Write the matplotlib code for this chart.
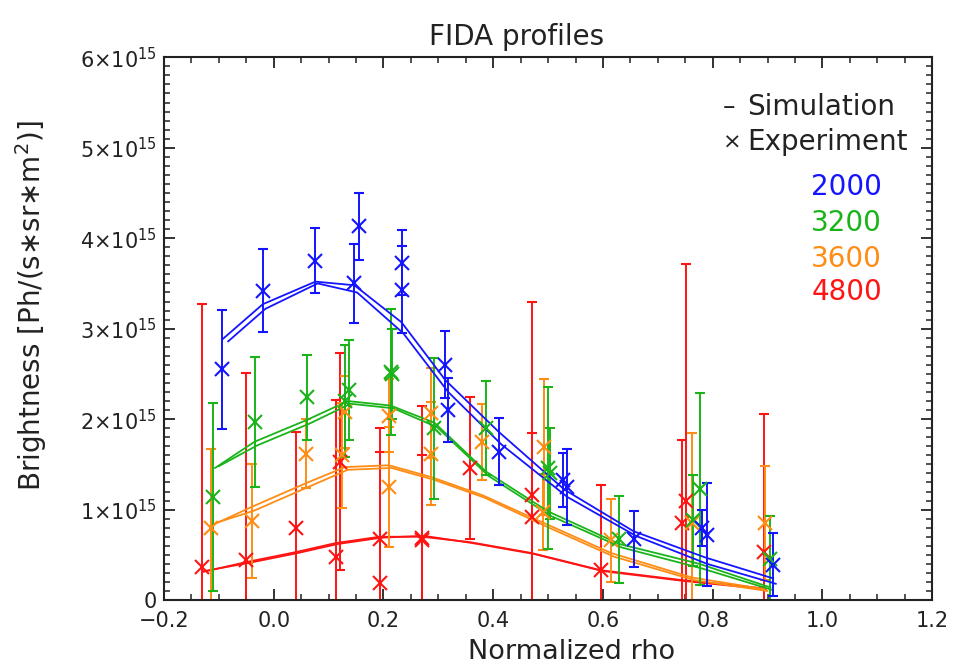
import numpy as np
import matplotlib
matplotlib.use('Agg')
import matplotlib.pyplot as plt
from matplotlib.ticker import MultipleLocator, FuncFormatter

plt.rcParams['font.family'] = ['DejaVu Sans']
plt.rcParams['mathtext.default'] = 'regular'

# values in units of 1e15 Ph/(s*sr*m^2)
energies = ['2000', '3200', '3600', '4800']
colors = ['#1414ff', '#1ab41a', '#ff8c14', '#ff1414']

# simulation, two lines per energy
blue_sim_xa = [-0.094, -0.02, 0.076, 0.147, 0.233, 0.313, 0.41, 0.53, 0.656, 0.787, 0.91]
blue_sim_ya = [2.88, 3.27, 3.52, 3.48, 3.07, 2.43, 1.86, 1.22, 0.76, 0.47, 0.24]
blue_sim_xb = [-0.083, -0.015, 0.08, 0.152, 0.236, 0.318, 0.415, 0.535, 0.66, 0.79, 0.915]
blue_sim_yb = [2.86, 3.22, 3.50, 3.40, 2.95, 2.30, 1.72, 1.14, 0.71, 0.40, 0.18]

green_sim_xa = [-0.107, -0.035, 0.06, 0.135, 0.213, 0.293, 0.387, 0.50, 0.63, 0.776, 0.905]
green_sim_ya = [1.46, 1.75, 1.99, 2.20, 2.15, 1.96, 1.42, 0.98, 0.62, 0.40, 0.14]
green_sim_xb = [-0.10, -0.03, 0.065, 0.14, 0.218, 0.298, 0.392, 0.505, 0.635, 0.78, 0.91]
green_sim_yb = [1.48, 1.71, 1.95, 2.17, 2.12, 1.91, 1.37, 0.93, 0.58, 0.35, 0.11]

orange_sim_xa = [-0.115, -0.04, 0.058, 0.13, 0.21, 0.287, 0.38, 0.493, 0.615, 0.762, 0.895]
orange_sim_ya = [0.82, 1.03, 1.29, 1.47, 1.49, 1.36, 1.16, 0.85, 0.52, 0.25, 0.12]
orange_sim_xb = [-0.112, -0.035, 0.063, 0.135, 0.215, 0.292, 0.385, 0.498, 0.62, 0.767, 0.9]
orange_sim_yb = [0.84, 0.99, 1.25, 1.44, 1.46, 1.33, 1.13, 0.81, 0.48, 0.22, 0.10]

red_sim_xa = [-0.13, -0.05, 0.04, 0.113, 0.193, 0.27, 0.358, 0.47, 0.596, 0.745, 0.893]
red_sim_ya = [0.31, 0.42, 0.53, 0.63, 0.70, 0.70, 0.64, 0.52, 0.33, 0.22, 0.13]
red_sim_xb = [-0.127, -0.046, 0.044, 0.117, 0.197, 0.274, 0.362, 0.474, 0.6, 0.749, 0.897]
red_sim_yb = [0.32, 0.41, 0.52, 0.62, 0.69, 0.71, 0.63, 0.51, 0.32, 0.21, 0.12]

# experiment
blue_exp_x = [-0.094, -0.02, 0.076, 0.147, 0.155, 0.233, 0.233, 0.313, 0.318, 0.41,
              0.528, 0.535, 0.656, 0.78, 0.79, 0.91]
blue_exp_y = [2.55, 3.42, 3.75, 3.50, 4.13, 3.73, 3.43, 2.60, 2.10, 1.64,
              1.33, 1.25, 0.67, 0.80, 0.72, 0.39]
blue_exp_err = [0.66, 0.46, 0.36, 0.44, 0.37, 0.36, 0.48, 0.37, 0.35, 0.37,
                0.30, 0.42, 0.31, 0.20, 0.57, 0.35]

green_exp_x = [-0.11, -0.035, 0.06, 0.13, 0.138, 0.213, 0.216, 0.293, 0.387, 0.50,
               0.503, 0.63, 0.765, 0.776, 0.905]
green_exp_y = [1.14, 1.97, 2.24, 2.20, 2.32, 2.52, 2.50, 1.90, 1.90, 1.46,
               1.40, 0.67, 0.88, 1.23, 0.45]
green_exp_err = [1.04, 0.72, 0.47, 0.62, 0.55, 0.70, 0.50, 0.78, 0.52, 0.90,
                 0.50, 0.48, 0.50, 1.06, 0.48]

orange_exp_x = [-0.115, -0.04, 0.058, 0.125, 0.13, 0.21, 0.21, 0.287, 0.287, 0.38,
                0.49, 0.493, 0.615, 0.762, 0.895]
orange_exp_y = [0.80, 0.87, 1.62, 1.60, 2.08, 1.25, 2.04, 2.07, 1.62, 1.75,
                0.97, 1.69, 0.66, 0.85, 0.85]
orange_exp_err = [0.87, 0.63, 0.38, 0.58, 0.40, 0.66, 0.40, 0.50, 0.57, 0.42,
                  0.42, 0.75, 0.46, 1.00, 0.63]

red_exp_x = [-0.13, -0.05, 0.04, 0.113, 0.12, 0.193, 0.193, 0.27, 0.27, 0.358,
             0.47, 0.47, 0.596, 0.745, 0.752, 0.893]
red_exp_y = [0.37, 0.44, 0.80, 0.48, 1.53, 0.68, 0.19, 0.69, 0.66, 1.46,
             1.16, 0.92, 0.33, 0.85, 1.10, 0.53]
red_exp_err = [2.90, 2.07, 1.06, 1.73, 1.20, 1.22, 1.45, 1.46, 0.94, 0.78,
               2.13, 0.93, 0.94, 0.92, 2.62, 1.53]

sims = [(blue_sim_xa, blue_sim_ya, blue_sim_xb, blue_sim_yb),
        (green_sim_xa, green_sim_ya, green_sim_xb, green_sim_yb),
        (orange_sim_xa, orange_sim_ya, orange_sim_xb, orange_sim_yb),
        (red_sim_xa, red_sim_ya, red_sim_xb, red_sim_yb)]
exps = [(blue_exp_x, blue_exp_y, blue_exp_err),
        (green_exp_x, green_exp_y, green_exp_err),
        (orange_exp_x, orange_exp_y, orange_exp_err),
        (red_exp_x, red_exp_y, red_exp_err)]

fig = plt.figure(figsize=(9.59, 6.66), dpi=100)
ax = fig.add_axes([0.171, 0.099, 0.801, 0.815])

scale = 1e15
for i in [3, 2, 1, 0]:
    c = colors[i]
    xa, ya, xb, yb = sims[i]
    ax.plot(xa, np.array(ya) * scale, color=c, lw=1.3)
    ax.plot(xb, np.array(yb) * scale, color=c, lw=1.3)
    ex, ey, ee = exps[i]
    ax.errorbar(ex, np.array(ey) * scale, yerr=np.array(ee) * scale, fmt='x',
                color=c, ms=10, mew=1.5, elinewidth=1.4, capsize=3.5, capthick=1.4)

ax.set_xlim(-0.2, 1.2)
ax.set_ylim(0, 6e15)
ax.xaxis.set_major_locator(MultipleLocator(0.2))
ax.xaxis.set_minor_locator(MultipleLocator(0.05))
ax.yaxis.set_major_locator(MultipleLocator(1e15))
ax.yaxis.set_minor_locator(MultipleLocator(1e14))


def yfmt(v, pos):
    n = int(round(v / 1e15))
    if n == 0:
        return '0'
    return r'$%d{\times}10^{15}$' % n


ax.yaxis.set_major_formatter(FuncFormatter(yfmt))
ax.xaxis.set_major_formatter(FuncFormatter(lambda v, p: ('%.1f' % v).replace('-', '\u2212')))

ax.tick_params(which='both', direction='in', top=True, right=True, color='#222222')
ax.tick_params(which='major', length=8, width=1.3)
ax.tick_params(which='minor', length=4.5, width=1.1)
ax.tick_params(axis='x', labelsize=15, pad=8, labelcolor='#222222')
ax.tick_params(axis='y', labelsize=15, pad=5, labelcolor='#222222')
for s in ax.spines.values():
    s.set_linewidth(1.5)
    s.set_color('#222222')

ax.set_xlabel('Normalized rho', fontsize=19.5, color='#222222', va='baseline')
ax.xaxis.set_label_coords(0.531, -0.108)
ax.set_ylabel(r'Brightness [Ph/(s$\ast$sr$\ast$m$^2$)]', fontsize=20, color='#222222')
ax.yaxis.set_label_coords(-0.15, 0.543)
fig.text(0.539, 0.945, 'FIDA profiles', ha='center', va='center', fontsize=20, color='#222222')

# legend drawn as text
ax.text(0.728, 0.908, '\u2013', transform=ax.transAxes, fontsize=18, va='center', color='#222222')
ax.text(0.759, 0.908, 'Simulation', transform=ax.transAxes, fontsize=20, va='center', color='#222222')
ax.text(0.728, 0.843, '\u00d7', transform=ax.transAxes, fontsize=16, va='center', color='#222222')
ax.text(0.759, 0.843, 'Experiment', transform=ax.transAxes, fontsize=20, va='center', color='#222222')
ypos = [0.761, 0.694, 0.628, 0.567]
for lab, c, yy in zip(energies, colors, ypos):
    ax.text(0.935, yy, lab, transform=ax.transAxes, fontsize=20, ha='right', va='center', color=c)

fig.savefig('out.png', dpi=100)
